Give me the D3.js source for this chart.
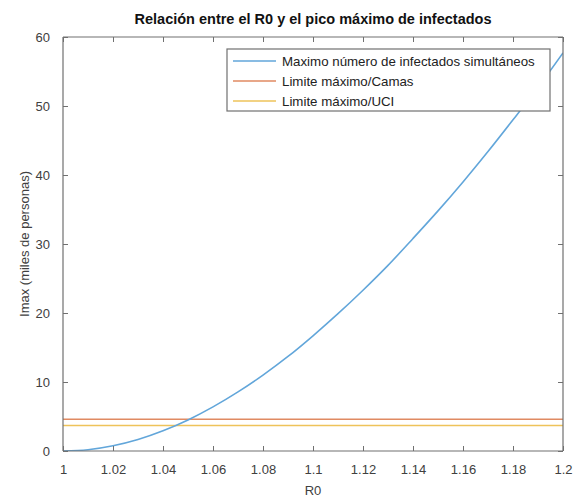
<!DOCTYPE html>
<html>
<head>
<meta charset="utf-8">
<script src="https://cdn.jsdelivr.net/npm/d3@7"></script>
<style>
  html, body { margin: 0; padding: 0; background: #fff; }
  svg { display: block; }
  text { font-family: "Liberation Sans", Arial, sans-serif; }
</style>
</head>
<body>
<div id="chart"></div>
<script>
// R0 values (x) and peak simultaneous infected, in thousands of people
const r0Values = [1.00, 1.01, 1.02, 1.03, 1.04, 1.05, 1.06, 1.07, 1.08, 1.09, 1.10,
                  1.11, 1.12, 1.13, 1.14, 1.15, 1.16, 1.17, 1.18, 1.19, 1.20];
const imaxValues = [0, 0.19, 0.76, 1.67, 2.93, 4.50, 6.39, 8.56, 11.0, 13.7, 16.7,
                    19.9, 23.3, 26.9, 30.8, 34.8, 39.0, 43.4, 48.0, 52.7, 57.7];

// Capacity limits (thousands)
const limitCamas = 4.6;
const limitUCI = 3.7;

const xTicks = [1, 1.02, 1.04, 1.06, 1.08, 1.1, 1.12, 1.14, 1.16, 1.18, 1.2];
const yTicks = [0, 10, 20, 30, 40, 50, 60];

const legendLabels = [
  "Maximo número de infectados simultáneos",
  "Limite máximo/Camas",
  "Limite máximo/UCI"
];
const seriesColors = ["#62a6da", "#e08a62", "#eec35a"];

const W = 584, H = 499;
const plot = { left: 63, right: 563, top: 37, bottom: 451 };

const svg = d3.select("#chart").append("svg")
  .attr("width", W).attr("height", H);

const x = d3.scaleLinear().domain([1, 1.2]).range([plot.left, plot.right]);
const y = d3.scaleLinear().domain([0, 60]).range([plot.bottom, plot.top]);

const axisColor = "#707070";
const tickLabelColor = "#404040";
const labelFont = "13px";

// clip region for the data lines
svg.append("defs").append("clipPath").attr("id", "plotClip")
  .append("rect")
  .attr("x", plot.left).attr("y", plot.top)
  .attr("width", plot.right - plot.left).attr("height", plot.bottom - plot.top);

const dataG = svg.append("g").attr("clip-path", "url(#plotClip)");

// horizontal capacity lines
[limitCamas, limitUCI].forEach((v, i) => {
  dataG.append("line")
    .attr("x1", x(1)).attr("x2", x(1.2))
    .attr("y1", y(v)).attr("y2", y(v))
    .attr("stroke", seriesColors[i + 1])
    .attr("stroke-width", 1.6);
});

// curve of peak infections
const line = d3.line()
  .x((d, i) => x(r0Values[i]))
  .y(d => y(d))
  .curve(d3.curveMonotoneX);

dataG.append("path")
  .datum(imaxValues)
  .attr("d", line)
  .attr("fill", "none")
  .attr("stroke", seriesColors[0])
  .attr("stroke-width", 1.6);

// axes (ticks inward, box on all sides)
const fmtX = d => d3.format("")(+d.toFixed(2));
const bottomAxis = d3.axisBottom(x).tickValues(xTicks).tickSize(-5).tickPadding(14).tickFormat(fmtX);
const topAxis = d3.axisTop(x).tickValues(xTicks).tickSize(-5).tickFormat("");
const leftAxis = d3.axisLeft(y).tickValues(yTicks).tickSize(-5).tickPadding(13);
const rightAxis = d3.axisRight(y).tickValues(yTicks).tickSize(-5).tickFormat("");

function styleAxis(g) {
  g.select(".domain").attr("stroke", axisColor).attr("stroke-width", 1.2);
  g.selectAll(".tick line").attr("stroke", axisColor);
  g.selectAll(".tick text").attr("fill", tickLabelColor).style("font-size", labelFont)
    .style("font-family", "'Liberation Sans', Arial, sans-serif");
}

svg.append("g").attr("transform", `translate(0,${plot.bottom})`).call(bottomAxis)
  .call(g => g.select(".domain").attr("d", `M${plot.left},0H${plot.right}`)).call(styleAxis);
svg.append("g").attr("transform", `translate(0,${plot.top})`).call(topAxis)
  .call(g => g.select(".domain").attr("d", `M${plot.left},0H${plot.right}`)).call(styleAxis);
svg.append("g").attr("transform", `translate(${plot.left},0)`).call(leftAxis)
  .call(g => g.select(".domain").attr("d", `M0,${plot.bottom}V${plot.top}`)).call(styleAxis);
svg.append("g").attr("transform", `translate(${plot.right},0)`).call(rightAxis)
  .call(g => g.select(".domain").attr("d", `M0,${plot.bottom}V${plot.top}`)).call(styleAxis);

// title and axis labels
svg.append("text")
  .attr("x", (plot.left + plot.right) / 2).attr("y", 24)
  .attr("text-anchor", "middle")
  .style("font-size", "14.5px").style("font-weight", "bold").attr("fill", "#111")
  .text("Relación entre el R0 y el pico máximo de infectados");

svg.append("text")
  .attr("x", (plot.left + plot.right) / 2).attr("y", 495)
  .attr("text-anchor", "middle")
  .style("font-size", labelFont).attr("fill", tickLabelColor)
  .text("R0");

svg.append("text")
  .attr("transform", `translate(29,${(plot.top + plot.bottom) / 2}) rotate(-90)`)
  .attr("text-anchor", "middle")
  .style("font-size", labelFont).attr("fill", tickLabelColor)
  .text("Imax (miles de personas)");

// legend
const legend = { x: 227, y: 49, w: 323, rowH: 20 };
const lg = svg.append("g");
lg.append("rect")
  .attr("x", legend.x).attr("y", legend.y)
  .attr("width", legend.w).attr("height", legend.rowH * legendLabels.length + 2)
  .attr("fill", "#fff").attr("stroke", axisColor).attr("stroke-width", 1.2);
legendLabels.forEach((lab, i) => {
  const cy = legend.y + 12 + i * legend.rowH;
  lg.append("line")
    .attr("x1", legend.x + 6).attr("x2", legend.x + 49)
    .attr("y1", cy).attr("y2", cy)
    .attr("stroke", seriesColors[i]).attr("stroke-width", 1.6);
  lg.append("text")
    .attr("x", legend.x + 55).attr("y", cy + 4.5)
    .style("font-size", "13.3px").attr("fill", "#222")
    .text(lab);
});
</script>
</body>
</html>
